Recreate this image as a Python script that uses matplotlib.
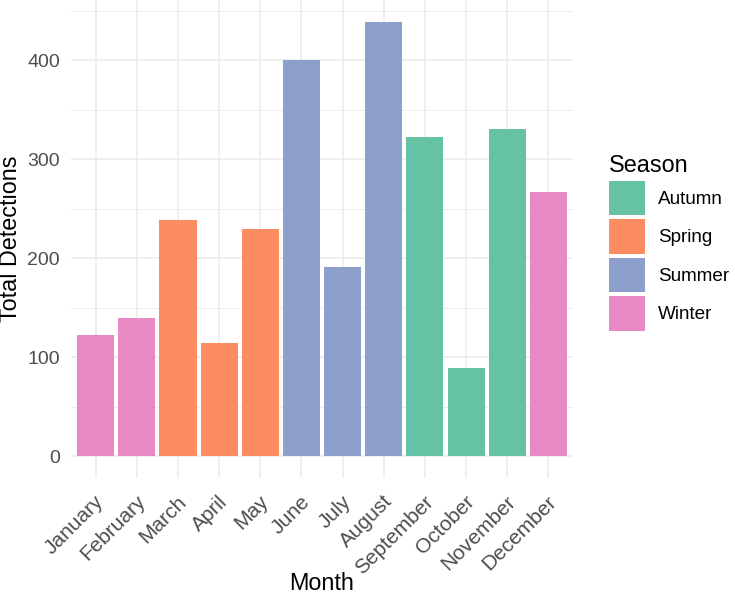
import matplotlib
matplotlib.use("Agg")
import matplotlib.pyplot as plt
import matplotlib.transforms as mtransforms
from matplotlib.patches import Patch
from matplotlib.ticker import MultipleLocator

plt.rcParams["font.family"] = ["Liberation Sans", "DejaVu Sans"]

# data
months = ["January", "February", "March", "April", "May", "June",
          "July", "August", "September", "October", "November", "December"]
detections = [123, 140, 239, 114, 230, 400, 191, 439, 323, 89, 331, 267]
seasons = ["Winter", "Winter", "Spring", "Spring", "Spring", "Summer",
           "Summer", "Summer", "Autumn", "Autumn", "Autumn", "Winter"]

season_order = ["Autumn", "Spring", "Summer", "Winter"]
season_colors = {"Autumn": "#66C2A5", "Spring": "#FC8D62",
                 "Summer": "#8DA0CB", "Winter": "#E78AC3"}

fig = plt.figure(figsize=(7.35, 5.95), dpi=100)
ax = fig.add_axes([71 / 735, 1 - 478 / 595, (573 - 71) / 735, 478 / 595])

x = list(range(len(months)))
ax.bar(x, detections, width=0.9,
       color=[season_colors[s] for s in seasons], linewidth=0, zorder=2)

# ggplot-like expansion
ymax = max(detections)
ax.set_ylim(-0.05 * ymax, 1.05 * ymax)
ax.set_xlim(-0.6, len(months) - 0.4)

ax.yaxis.set_major_locator(MultipleLocator(100))
ax.yaxis.set_minor_locator(MultipleLocator(50))
ax.set_xticks(x)
ax.set_xticklabels(months)

ax.grid(which="major", color="#EBEBEB", linewidth=1.1, zorder=0)
ax.grid(which="minor", axis="y", color="#EBEBEB", linewidth=0.6, zorder=0)
ax.set_axisbelow(True)
for sp in ax.spines.values():
    sp.set_visible(False)

ax.tick_params(axis="both", which="both", length=0, labelcolor="#4D4D4D")
ax.tick_params(axis="y", labelsize=14, pad=8)
ax.tick_params(axis="x", labelsize=15, pad=10)

offset = mtransforms.ScaledTranslation(12 / 100, 0, fig.dpi_scale_trans)
for lab in ax.get_xticklabels():
    lab.set_rotation(45)
    lab.set_ha("right")
    lab.set_va("top")
    lab.set_transform(lab.get_transform() + offset)

ax.set_xlabel("Month", fontsize=16.8, va="baseline")
ax.xaxis.set_label_coords(0.5, (478 - 590) / 478)
ax.set_ylabel("Total Detections", fontsize=16.8, va="center")
ax.yaxis.set_label_coords((11 - 71) / 502, 0.5)

handles = [Patch(facecolor=season_colors[s], edgecolor="none", label=s)
           for s in season_order]
leg = ax.legend(handles=handles, title="Season", loc="upper left",
                bbox_to_anchor=(609 / 735, 1 - 154 / 595),
                bbox_transform=fig.transFigure, frameon=False,
                fontsize=13.6, title_fontsize=16.8, borderpad=0,
                borderaxespad=0, handlelength=1.9, handleheight=2.45,
                labelspacing=0.2, handletextpad=0.7, alignment="left")

fig.savefig("out.png", dpi=100)
